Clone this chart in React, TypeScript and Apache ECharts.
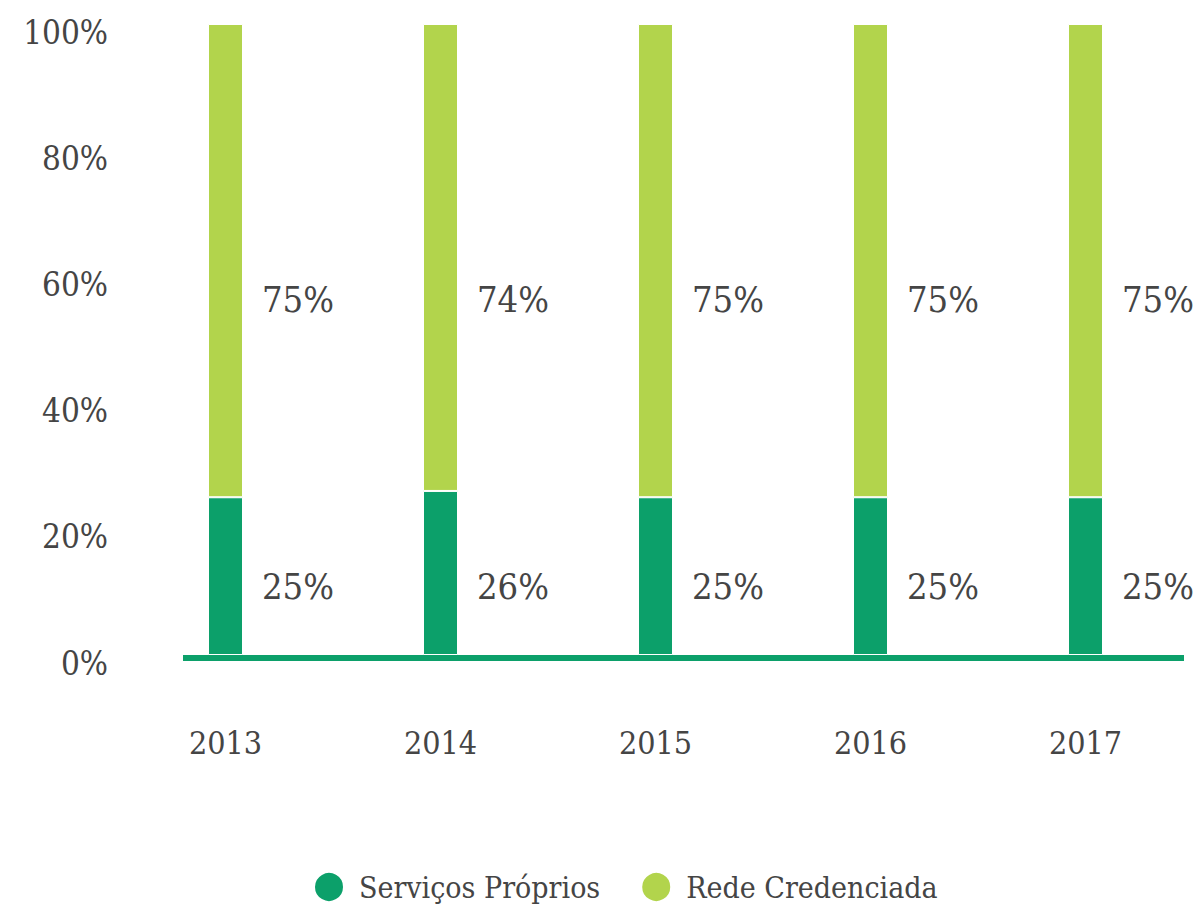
import React, { useEffect, useRef } from "react";
import * as echarts from "echarts";

const years = ["2013", "2014", "2015", "2016", "2017"];
const proprios = [25, 26, 25, 25, 25];
const credenciada = [75, 74, 75, 75, 75];
const yTicks = [0, 20, 40, 60, 80, 100];
const seriesNames = ["Serviços Próprios", "Rede Credenciada"];

const DARK = "#0ca06a";
const LIGHT = "#b2d44c";
const TEXT = "#454545";
const FONT = "'DejaVu Serif Condensed', 'DejaVu Serif', serif";

export default function App() {
  const ref = useRef<HTMLDivElement>(null);
  useEffect(() => {
    document.body.style.margin = "0";
    const chart = echarts.init(ref.current!, null, { renderer: "svg" });
    const gridTop = 24;
    const gridBottom = 253;
    const plotH = 908 - gridTop - gridBottom;
    const pxPer = plotH / 100;
    const darkTarget = 10.8;
    const lightTarget = 56.3;
    chart.setOption({
      animation: false,
      textStyle: { fontFamily: FONT },
      grid: { left: 118, right: 2, top: gridTop, bottom: gridBottom },
      legend: {
        left: 313,
        top: 871,
        padding: 0,
        icon: "circle",
        itemWidth: 30,
        itemHeight: 30,
        itemGap: 40,
        data: seriesNames,
        textStyle: { fontFamily: FONT, fontSize: 30, color: TEXT, padding: [0, 0, 0, 10] },
      },
      xAxis: {
        type: "category",
        data: years,
        axisLine: { show: false },
        axisTick: { show: false },
        axisLabel: { fontFamily: FONT, fontSize: 32, color: TEXT, margin: 72 },
      },
      yAxis: {
        type: "value",
        min: 0,
        max: 100,
        interval: 20,
        splitLine: { show: false },
        axisLine: { show: false },
        axisTick: { show: false },
        axisLabel: {
          fontFamily: FONT,
          fontSize: 33,
          color: TEXT,
          margin: 10,
          verticalAlign: "top",
          lineHeight: 16,
          formatter: (v: number) => (yTicks.includes(v) ? v + "%" : ""),
        },
      },
      graphic: [
        {
          type: "line",
          shape: { x1: 183, y1: 658, x2: 1184, y2: 658 },
          style: { stroke: DARK, lineWidth: 6 },
          z: 0,
        },
      ],
      series: [
        {
          name: seriesNames[0],
          type: "bar",
          stack: "total",
          barWidth: 35,
          itemStyle: { color: DARK, borderColor: "#ffffff", borderWidth: 1 },
          data: proprios.map((v) => ({
            value: v,
            label: { offset: [0, (v / 2 - darkTarget) * pxPer] },
          })),
          label: {
            show: true,
            position: "right",
            distance: 19,
            fontFamily: FONT,
            fontSize: 36,
            color: TEXT,
            formatter: "{c}%",
          },
        },
        {
          name: seriesNames[1],
          type: "bar",
          stack: "total",
          barWidth: 35,
          itemStyle: { color: LIGHT, borderColor: "#ffffff", borderWidth: 1 },
          data: credenciada.map((v, i) => ({
            value: v,
            label: { offset: [0, (proprios[i] + v / 2 - lightTarget) * pxPer] },
          })),
          label: {
            show: true,
            position: "right",
            distance: 19,
            fontFamily: FONT,
            fontSize: 36,
            color: TEXT,
            formatter: "{c}%",
          },
        },
      ],
    });
    return () => chart.dispose();
  }, []);
  return <div ref={ref} style={{ width: 1195, height: 908 }} />;
}
